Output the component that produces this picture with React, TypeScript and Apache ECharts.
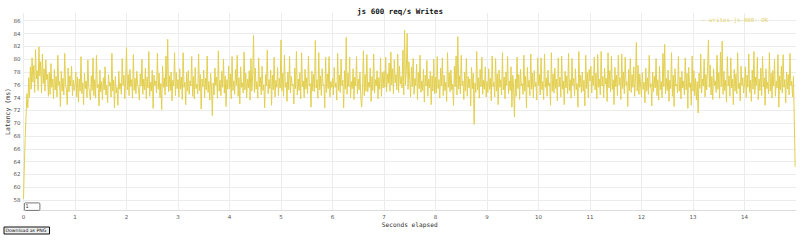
import React, { useEffect, useRef } from "react";
import * as echarts from "echarts";

// Latency samples (ms), 60 samples per second
const sec00 = [58.2, 63.5, 67.8, 71.2, 74.6, 72.4, 77.1, 74.0, 78.8, 75.3, 80.2, 76.4, 79.0, 74.8, 81.5, 76.9, 78.2, 75.1, 81.9, 77.4, 79.6, 74.7, 80.8, 76.2, 78.5, 75.0, 79.9, 76.8, 77.6, 74.2,
  77.9, 74.5, 79.3, 75.6, 76.9, 73.8, 78.4, 75.2, 77.3, 74.1, 80.6, 75.9, 76.5, 72.6, 78.1, 75.0, 77.0, 74.4, 80.9, 76.1, 75.3, 72.9, 78.6, 74.9, 77.4, 75.8, 78.9, 74.3, 76.7, 75.1];
const sec01 = [75.8, 78.0, 74.1, 77.2, 73.3, 76.9, 75.0, 80.4, 74.6, 76.3, 72.9, 77.8, 75.4, 76.6, 74.0, 79.9, 75.7, 74.8, 73.6, 77.4, 75.1, 80.2, 74.3, 76.8, 73.9, 80.6, 75.5, 76.1, 72.7, 78.3,
  74.9, 76.5, 73.7, 77.1, 75.2, 78.8, 74.4, 75.9, 73.2, 77.6, 75.8, 76.4, 74.1, 80.9, 75.0, 76.7, 72.4, 77.3, 74.7, 75.6, 72.8, 78.1, 75.3, 76.2, 74.5, 80.1, 75.9, 77.5, 73.8, 76.9];
const sec02 = [81.8, 75.2, 77.6, 74.3, 78.4, 75.7, 76.8, 73.9, 80.7, 75.1, 77.0, 74.6, 78.1, 76.0, 75.3, 73.6, 77.7, 75.8, 80.0, 74.5, 76.9, 75.2, 78.6, 73.8, 77.2, 75.5, 81.2, 74.2, 76.4, 75.0,
  78.3, 72.3, 77.5, 75.9, 76.6, 74.7, 80.9, 75.3, 77.8, 74.0, 76.2, 72.1, 78.9, 75.6, 77.1, 74.4, 80.5, 75.7, 83.1, 74.9, 77.4, 75.1, 78.0, 73.5, 76.7, 75.8, 81.0, 74.3, 77.9, 75.4];
const sec03 = [76.8, 74.1, 78.5, 75.3, 77.2, 73.7, 81.0, 75.6, 76.4, 72.9, 77.9, 75.0, 78.2, 74.5, 76.6, 75.8, 80.4, 74.2, 77.3, 73.8, 78.7, 75.4, 76.1, 74.6, 80.8, 75.1, 77.6, 72.2, 76.9, 75.7,
  78.3, 74.0, 77.0, 75.2, 80.5, 74.8, 76.5, 73.6, 77.8, 75.5, 71.2, 76.3, 74.4, 78.6, 75.9, 77.2, 73.9, 81.3, 75.0, 76.7, 74.3, 78.1, 75.6, 80.0, 74.7, 77.4, 72.6, 76.8, 75.3, 78.9];
const sec04 = [75.4, 77.7, 73.8, 80.4, 75.1, 76.6, 74.5, 78.4, 75.9, 80.6, 74.2, 77.1, 73.0, 78.8, 75.6, 76.3, 74.7, 81.1, 75.2, 77.8, 74.0, 76.9, 75.5, 78.2, 73.6, 80.1, 75.0, 77.4, 83.7, 74.8,
  78.6, 75.3, 76.5, 73.9, 80.2, 75.7, 77.2, 74.4, 78.9, 75.1, 76.0, 72.4, 77.6, 75.8, 81.4, 74.6, 76.8, 75.4, 78.3, 72.8, 77.5, 75.2, 80.3, 74.1, 76.7, 75.6, 78.7, 74.3, 77.0, 75.5];
const sec05 = [83.0, 75.0, 77.8, 74.2, 80.6, 75.6, 76.4, 73.4, 78.0, 75.2, 80.4, 74.7, 77.3, 75.9, 76.1, 73.0, 78.6, 75.4, 81.2, 74.4, 76.9, 75.1, 77.9, 73.8, 81.0, 75.7, 76.6, 74.0, 78.4, 75.3,
  77.1, 74.6, 80.5, 75.8, 76.2, 72.5, 78.1, 75.0, 77.6, 74.9, 82.9, 75.5, 76.8, 73.9, 81.0, 75.2, 77.4, 74.3, 78.5, 75.9, 76.0, 72.4, 80.3, 74.8, 77.7, 75.4, 80.4, 74.1, 76.5, 75.6];
const sec06 = [77.0, 74.4, 78.7, 75.6, 76.3, 73.6, 80.9, 75.1, 77.5, 74.8, 80.0, 75.9, 76.7, 72.4, 78.2, 75.3, 83.4, 74.5, 77.8, 75.7, 80.3, 74.0, 76.5, 75.4, 78.5, 73.7, 77.2, 75.8, 80.4, 74.6,
  76.9, 75.2, 78.0, 73.9, 72.5, 75.5, 81.3, 74.3, 77.6, 75.0, 80.7, 74.9, 76.4, 75.6, 78.6, 73.4, 77.3, 75.1, 80.8, 74.7, 76.8, 75.8, 78.2, 73.8, 77.1, 75.3, 80.2, 74.2, 77.9, 75.5];
const sec07 = [78.1, 75.6, 80.3, 74.9, 77.7, 76.2, 79.4, 75.0, 81.1, 76.0, 78.5, 74.6, 79.9, 76.3, 77.6, 75.2, 80.8, 74.8, 78.9, 76.1, 77.3, 75.5, 81.4, 74.4, 84.5, 76.0, 78.2, 84.0, 75.3, 79.6,
  76.7, 74.1, 78.8, 75.7, 80.1, 74.5, 77.0, 75.9, 79.2, 73.7, 77.9, 75.4, 80.6, 74.8, 76.6, 75.1, 78.4, 73.3, 77.5, 75.8, 79.8, 74.2, 76.9, 75.5, 78.1, 72.9, 77.4, 75.0, 80.0, 74.6];
const sec08 = [77.2, 74.7, 80.4, 75.4, 76.8, 73.9, 78.6, 75.8, 80.2, 74.3, 77.5, 75.1, 76.4, 73.4, 81.0, 75.6, 77.9, 74.9, 78.3, 75.2, 76.1, 72.8, 78.9, 75.7, 80.5, 74.4, 83.5, 75.3, 77.4, 74.6,
  80.6, 75.9, 76.6, 73.7, 78.0, 75.0, 80.1, 74.2, 77.3, 75.5, 76.9, 72.7, 78.7, 75.4, 77.8, 69.8, 76.3, 74.8, 81.2, 75.2, 77.1, 73.9, 78.4, 75.7, 80.3, 74.5, 76.7, 75.3, 78.8, 74.1];
const sec09 = [76.5, 74.8, 78.5, 75.3, 77.0, 73.5, 80.5, 75.7, 76.4, 74.1, 80.1, 75.0, 77.7, 72.9, 78.3, 75.6, 76.8, 74.4, 81.0, 75.2, 77.2, 73.8, 78.0, 75.9, 80.4, 74.6, 76.6, 75.1, 78.8, 72.5,
  77.5, 75.5, 71.0, 76.9, 74.2, 80.3, 75.4, 77.6, 73.7, 78.4, 75.8, 76.2, 74.5, 80.6, 75.0, 77.3, 72.4, 78.7, 75.6, 76.7, 74.3, 80.8, 75.3, 77.8, 74.0, 78.2, 75.7, 76.4, 73.6, 80.2];
const sec10 = [75.9, 77.6, 74.4, 80.2, 75.2, 76.5, 73.7, 80.8, 75.6, 77.1, 74.2, 78.3, 75.8, 76.3, 72.8, 81.0, 75.0, 77.7, 74.7, 78.6, 75.4, 76.9, 73.5, 80.2, 75.7, 77.2, 74.1, 80.5, 75.3, 76.6,
  72.9, 78.1, 75.5, 77.4, 74.6, 80.9, 75.1, 76.8, 73.9, 80.1, 75.9, 77.0, 74.3, 78.5, 75.2, 76.2, 72.5, 81.2, 75.6, 77.5, 74.8, 78.0, 75.0, 76.7, 72.7, 80.6, 75.4, 77.9, 74.0, 78.4];
const sec11 = [76.6, 78.9, 74.7, 77.4, 75.9, 80.3, 75.2, 77.8, 73.8, 80.7, 75.6, 76.9, 74.4, 81.2, 75.8, 77.3, 74.0, 78.6, 76.1, 77.0, 73.4, 81.0, 75.5, 78.2, 74.9, 80.5, 75.3, 76.8, 72.9, 78.7,
  75.7, 77.5, 74.3, 80.6, 76.0, 77.1, 73.7, 80.8, 75.4, 78.0, 74.6, 80.3, 75.9, 76.5, 72.6, 78.4, 75.1, 80.1, 74.8, 77.6, 75.6, 78.8, 74.2, 77.2, 82.6, 75.0, 79.0, 74.5, 77.7, 75.8];
const sec12 = [74.1, 77.9, 75.3, 76.4, 73.2, 78.6, 75.0, 77.1, 74.5, 80.6, 75.6, 76.2, 72.7, 78.0, 74.9, 77.3, 75.5, 80.1, 74.3, 76.8, 73.6, 78.9, 75.2, 76.5, 74.0, 80.9, 75.7, 82.3, 74.6, 77.0,
  75.1, 78.3, 73.4, 76.7, 75.4, 81.0, 74.2, 77.5, 72.6, 78.5, 75.8, 76.1, 74.7, 80.4, 75.0, 77.2, 73.8, 78.1, 75.5, 76.6, 74.4, 80.2, 75.2, 77.8, 72.3, 78.7, 75.6, 76.3, 72.8, 80.5];
const sec13 = [75.0, 78.2, 74.3, 77.0, 73.6, 76.5, 71.6, 77.8, 75.4, 80.8, 74.7, 76.9, 75.8, 80.0, 74.1, 77.6, 75.2, 78.8, 83.0, 75.6, 79.1, 74.4, 77.3, 73.7, 78.5, 75.9, 76.6, 74.8, 80.6, 75.3,
  77.9, 73.9, 81.1, 75.7, 82.8, 74.5, 78.1, 75.1, 76.7, 73.3, 80.4, 75.8, 77.4, 74.2, 80.2, 75.5, 76.9, 72.9, 78.4, 75.0, 77.7, 74.6, 81.0, 75.4, 76.3, 73.5, 78.9, 75.9, 77.1, 74.7];
const sec14 = [76.2, 78.8, 74.0, 77.5, 75.6, 80.8, 74.8, 76.7, 73.4, 78.3, 75.3, 81.2, 74.5, 77.2, 75.9, 80.3, 73.7, 76.9, 75.1, 78.6, 74.3, 80.4, 75.7, 77.1, 72.8, 78.5, 75.4, 76.4, 74.6, 81.0,
  75.0, 77.8, 73.9, 78.2, 75.8, 80.0, 74.2, 76.6, 75.5, 80.7, 72.5, 77.4, 75.2, 78.9, 74.7, 80.7, 75.6, 76.8, 73.2, 78.0, 75.3, 77.6, 74.4, 80.9, 75.9, 76.5, 74.1, 77.3, 70.5, 63.2];

const samplesPerSecond = 60;
const latency = [
  ...sec00, ...sec01, ...sec02, ...sec03, ...sec04, ...sec05, ...sec06, ...sec07,
  ...sec08, ...sec09, ...sec10, ...sec11, ...sec12, ...sec13, ...sec14,
];

const yTicks = [58, 60, 62, 64, 66, 68, 70, 72, 74, 76, 78, 80, 82, 84, 86];
const xTicks = [0, 1, 2, 3, 4, 5, 6, 7, 8, 9, 10, 11, 12, 13, 14];

const seriesName = "writes-js-600";
const chartTitle = "js 600 req/s Writes";

export default function App() {
  const ref = useRef<HTMLDivElement>(null);

  useEffect(() => {
    if (!ref.current) return;
    const chart = echarts.init(ref.current, undefined, { renderer: "svg" });
    const data = latency.map((v, i) => [i / samplesPerSecond, v]);
    const mono = "'DejaVu Sans Mono', 'Liberation Mono', monospace";
    chart.setOption({
      animation: false,
      backgroundColor: "#ffffff",
      title: {
        text: chartTitle,
        left: "center",
        top: 2,
        textStyle: { fontFamily: mono, fontSize: 7.5, fontWeight: "bold", color: "#111" },
      },
      legend: {
        data: [seriesName],
        left: 692,
        top: 12,
        icon: "none",
        itemWidth: 0,
        itemHeight: 0,
        formatter: (n: string) => "— " + n + ": OK",
        textStyle: { fontFamily: mono, fontSize: 5.8, color: "#e3d36a" },
      },
      grid: {
        left: 23.5,
        right: 4,
        top: 13,
        bottom: 32,
        containLabel: false,
        outerBoundsMode: "none",
      },
      xAxis: {
        type: "value",
        min: 0,
        max: 15,
        interval: 1,
        name: "Seconds elapsed",
        nameLocation: "middle",
        nameGap: 11,
        nameMoveOverlap: false,
        nameTextStyle: { fontFamily: mono, fontSize: 6.2, color: "#333" },
        axisLine: { show: true, lineStyle: { color: "#dcdcdc", width: 1 } },
        axisTick: { show: false, customValues: xTicks },
        axisLabel: {
          customValues: xTicks,
          fontFamily: "'DejaVu Sans', sans-serif",
          fontSize: 5.5,
          color: "#555",
          margin: 4,
        },
        splitLine: { show: true, lineStyle: { color: "#ececec", width: 1 } },
      },
      yAxis: {
        type: "value",
        min: 56.45,
        max: 87.2,
        name: "Latency (ms)",
        nameLocation: "middle",
        nameGap: 12,
        nameMoveOverlap: false,
        nameTextStyle: { fontFamily: mono, fontSize: 6.5, color: "#333" },
        axisLine: { show: false },
        axisTick: { show: false, customValues: yTicks },
        axisLabel: {
          customValues: yTicks,
          fontFamily: "'DejaVu Sans', sans-serif",
          fontSize: 5.5,
          color: "#555",
          margin: 3,
        },
        splitLine: { show: true, lineStyle: { color: "#ececec", width: 1 } },
      },
      series: [
        {
          name: seriesName,
          type: "line",
          data,
          symbol: "none",
          showSymbol: false,
          color: "#e3cf4f",
          lineStyle: { color: "#e3cf4f", width: 1 },
          emphasis: { disabled: true },
        },
      ],
      graphic: [
        {
          type: "rect",
          left: 24,
          top: 202.5,
          shape: { width: 15.5, height: 7.5, r: 1 },
          style: { fill: "#fff", stroke: "#555", lineWidth: 0.8 },
          z: 100,
        },
        {
          type: "text",
          left: 25.5,
          top: 203.5,
          style: { text: "1", fontSize: 5, fontFamily: "'DejaVu Sans', sans-serif", fill: "#333" },
          z: 101,
        },
        {
          type: "rect",
          left: 3.5,
          top: 226.5,
          shape: { width: 45.5, height: 7 },
          style: { fill: "#efefef", stroke: "#111", lineWidth: 1 },
          z: 100,
        },
        {
          type: "text",
          left: 5.5,
          top: 228,
          style: {
            text: "Download as PNG",
            fontSize: 4.6,
            fontFamily: "'DejaVu Sans', sans-serif",
            fill: "#111",
          },
          z: 101,
        },
      ],
    });
    return () => chart.dispose();
  }, []);

  return (
    <div
      ref={ref}
      style={{ position: "absolute", left: 0, top: 0, width: 800, height: 242 }}
    />
  );
}
